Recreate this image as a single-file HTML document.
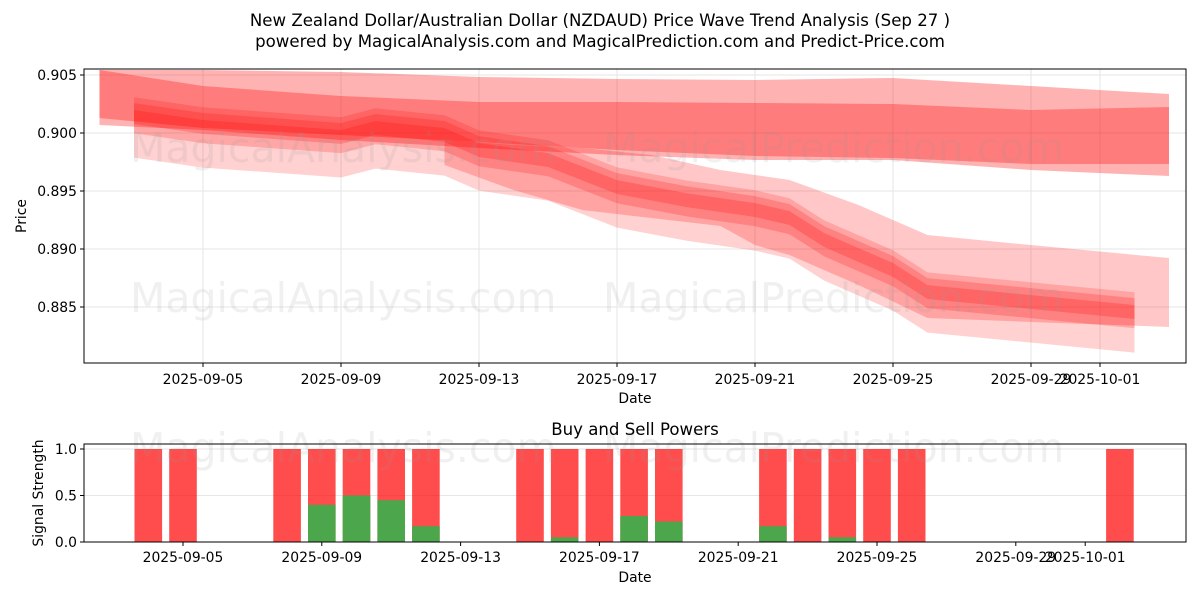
<!DOCTYPE html>
<html><head><meta charset="utf-8"><style>
body{margin:0;background:#fff;}
svg{display:block;font-family:"DejaVu Sans","Liberation Sans",sans-serif;}
</style></head><body>
<svg id="chart" width="1200" height="600" xmlns="http://www.w3.org/2000/svg">
<rect width="1200" height="600" fill="#fff"/>
<text x="600" y="26" font-size="16.6" text-anchor="middle">New Zealand Dollar/Australian Dollar (NZDAUD) Price Wave Trend Analysis (Sep 27 )</text>
<text x="600" y="47" font-size="16.6" text-anchor="middle">powered by MagicalAnalysis.com and MagicalPrediction.com and Predict-Price.com</text>
<g id="topPanel"></g>
<g id="botPanel"></g>
</svg>
<script>
// ---- price chart data (days offset from 2025-09-05) ----
const upperDays = [-3,0,4,8,12,16,20,24,28];
const upperOuterHi = [0.90543,0.90543,0.90526,0.90483,0.90466,0.90457,0.90474,0.90405,0.90336];
const upperOuterLo = [0.90069,0.90026,0.89940,0.89871,0.89810,0.89767,0.89767,0.89681,0.89629];
const upperInnerHi = [0.90543,0.90405,0.90319,0.90267,0.90267,0.90259,0.90250,0.90198,0.90224];
const upperInnerLo = [0.90129,0.90043,0.89983,0.89922,0.89853,0.89802,0.89784,0.89733,0.89733];
const trendDays = [-2,0,2,4,5,7,8,10,12,14,16,17,18,19,20,21,27];
const trendMid = [0.90138,0.90052,0.90009,0.89966,0.90043,0.89983,0.89853,0.89767,0.89534,0.89422,0.89336,0.89267,0.89078,0.88948,0.88819,0.88629,0.88457];
const trendSpreadHi = [0.0017,0.0012,0.0006];
const trendSpreadLo = [0.0035,0.0014,0.0006];
const wideDays = [7,9,11,13,15,16,17,19,21,24,28];
const wideHi = [0.89940,0.89897,0.89871,0.89810,0.89681,0.89638,0.89595,0.89379,0.89121,0.89034,0.88922];
const wideLo = [0.89724,0.89509,0.89336,0.89267,0.89198,0.89034,0.88948,0.88690,0.88405,0.88371,0.88328];
const priceTicks = [0.905,0.900,0.895,0.890,0.885];
const dateTickDays = [0,4,8,12,16,20,24,26];
const dateTickLabels = ["2025-09-05","2025-09-09","2025-09-13","2025-09-17","2025-09-21","2025-09-25","2025-09-29","2025-10-01"];
// ---- signal chart data ----
const barDays = [-1,0,3,4,5,6,7,10,11,12,13,14,17,18,19,20,21,27];
const sellVals = [1,1,1,1,1,1,1,1,1,1,1,1,1,1,1,1,1,1];
const buyVals = [0,0,0,0.40,0.50,0.45,0.17,0,0.05,0,0.28,0.22,0.17,0,0.05,0,0,0];
const signalTicks = [0.0,0.5,1.0];

const NS="http://www.w3.org/2000/svg";
function mk(tag,attrs,parent){const e=document.createElementNS(NS,tag);for(const k in attrs)e.setAttribute(k,attrs[k]);parent.appendChild(e);return e;}
const topG=document.getElementById('topPanel'), botG=document.getElementById('botPanel');
const X0=84,X1=1186,TY0=69,TY1=363;
const FS=13.9;
const xTop=d=>203+d*34.5;
const yTop=p=>75+(0.905-p)*11600;
const xBot=d=>183+d*34.7;
const BY0=444,BY1=542;
const yBot=v=>542-v*93;

priceTicks.forEach(p=>{
  const l=mk('line',{x1:X0,x2:X1,y1:yTop(p),y2:yTop(p),stroke:'#e6e6e6','stroke-width':1},topG);
  
  const t=mk('line',{x1:X0-4,x2:X0,y1:yTop(p),y2:yTop(p),stroke:'#000'},topG);
  
  const tx=mk('text',{x:X0-7,y:yTop(p)+5,'font-size':FS,'text-anchor':'end'},topG);tx.textContent=p.toFixed(3);
  
});
dateTickDays.forEach((d,i)=>{
  const l=mk('line',{x1:xTop(d),x2:xTop(d),y1:TY0,y2:TY1,stroke:'#e6e6e6'},topG);
  
  const t=mk('line',{x1:xTop(d),x2:xTop(d),y1:TY1,y2:TY1+4,stroke:'#000'},topG);
  
  const tx=mk('text',{x:xTop(d),y:TY1+21,'font-size':FS,'text-anchor':'middle'},topG);tx.textContent=dateTickLabels[i];
  
});
function wm(x,y,txt,parent){const t=mk('text',{x:x,y:y,'font-size':41,fill:'#999','fill-opacity':0.15},parent);t.textContent=txt;
  }
function band(days,hi,lo,alpha,xf){
  let pts=days.map((d,i)=>xf(d)+','+yTop(hi[i]));
  pts=pts.concat(days.map((d,i)=>xf(d)+','+yTop(lo[i])).reverse());
  const p=mk('polygon',{points:pts.join(' '),fill:'#ff0000','fill-opacity':alpha},topG);
  
}
band(upperDays,upperOuterHi,upperOuterLo,0.3,xTop);
band(upperDays,upperInnerHi,upperInnerLo,0.3,xTop);
band(wideDays,wideHi,wideLo,0.22,xTop);
trendSpreadHi.forEach((s,k)=>{
  band(trendDays,trendMid.map(v=>v+s),trendMid.map(v=>v-trendSpreadLo[k]),[0.18,0.2,0.22][k],xTop);
});
wm(130,162,'MagicalAnalysis.com',topG);wm(603,162,'MagicalPrediction.com',topG);
wm(130,312,'MagicalAnalysis.com',topG);wm(603,312,'MagicalPrediction.com',topG);
const fr=mk('rect',{x:X0,y:TY0,width:X1-X0,height:TY1-TY0,fill:'none',stroke:'#000'},topG);

let t1=mk('text',{x:635,y:403,'font-size':FS,'text-anchor':'middle'},topG);t1.textContent='Date';

let t2=mk('text',{x:0,y:0,'font-size':FS,'text-anchor':'middle',transform:'translate(26,216) rotate(-90)'},topG);t2.textContent='Price';


signalTicks.forEach(v=>{
  const l=mk('line',{x1:X0,x2:X1,y1:yBot(v),y2:yBot(v),stroke:'#e6e6e6'},botG);
  
  const t=mk('line',{x1:X0-4,x2:X0,y1:yBot(v),y2:yBot(v),stroke:'#000'},botG);
  
  const tx=mk('text',{x:X0-7,y:yBot(v)+5,'font-size':FS,'text-anchor':'end'},botG);tx.textContent=v.toFixed(1);
  
});
dateTickDays.forEach((d,i)=>{
  const t=mk('line',{x1:xBot(d),x2:xBot(d),y1:BY1,y2:BY1+4,stroke:'#000'},botG);
  
  const tx=mk('text',{x:xBot(d),y:BY1+20,'font-size':FS,'text-anchor':'middle'},botG);tx.textContent=dateTickLabels[i];
  
});
barDays.forEach((d,i)=>{
  const r=mk('rect',{x:xBot(d)-13.8,width:27.6,y:yBot(sellVals[i]),height:yBot(0)-yBot(sellVals[i]),fill:'#ff0000','fill-opacity':0.7},botG);
  
  if(buyVals[i]>0){
    const g=mk('rect',{x:xBot(d)-13.8,width:27.6,y:yBot(buyVals[i]),height:yBot(0)-yBot(buyVals[i]),fill:'#4ca64c'},botG);
    
  }
});
wm(130,462,'MagicalAnalysis.com',botG);wm(603,462,'MagicalPrediction.com',botG);
const fb=mk('rect',{x:X0,y:BY0,width:X1-X0,height:BY1-BY0,fill:'none',stroke:'#000'},botG);

let t3=mk('text',{x:635,y:435,'font-size':16.6,'text-anchor':'middle'},botG);t3.textContent='Buy and Sell Powers';

let t4=mk('text',{x:635,y:582,'font-size':FS,'text-anchor':'middle'},botG);t4.textContent='Date';

let t5=mk('text',{x:0,y:0,'font-size':FS,'text-anchor':'middle',transform:'translate(43,493) rotate(-90)'},botG);t5.textContent='Signal Strength';

</script>
</body></html>
